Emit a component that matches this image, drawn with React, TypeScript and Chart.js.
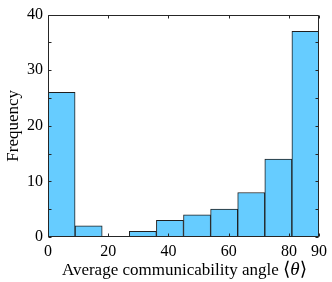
import React, { useEffect, useRef } from "react";
import { Chart, registerables } from "chart.js";

Chart.register(...registerables);

const binEdges = [0, 9, 18, 27, 36, 45, 54, 63, 72, 81, 90];
const counts = [26, 2, 0, 1, 3, 4, 5, 8, 14, 37];
const xTickValues = [0, 20, 40, 60, 80, 90];
const yMax = 40;
const xTitleParts = ["Average communicability angle ", "⟨", "θ", "⟩"];
const yTitle = "Frequency";

const FONT = "'Liberation Serif', 'DejaVu Serif', serif";
const AXIS_COLOR = "#262626";

const boxTicks = {
  id: "boxTicks",
  afterDraw(chart: any) {
    const { ctx, chartArea } = chart;
    const { left, right, top, bottom } = chartArea;
    const xs = chart.scales.x;
    const ys = chart.scales.y;
    ctx.save();
    ctx.strokeStyle = AXIS_COLOR;
    ctx.lineWidth = 1;
    const L = Math.round(left) + 0.5;
    const R = Math.round(right) - 0.5;
    const T = Math.round(top) + 0.5;
    const B = Math.round(bottom) - 0.5;
    ctx.beginPath();
    ctx.rect(L, T, R - L, B - T);
    ctx.stroke();
    const tl = 3;
    ctx.beginPath();
    xs.ticks.forEach((t: any) => {
      const px = Math.round(xs.getPixelForValue(t.value)) + 0.5;
      ctx.moveTo(px, B);
      ctx.lineTo(px, B - tl);
      ctx.moveTo(px, T);
      ctx.lineTo(px, T + tl);
    });
    ys.ticks.forEach((t: any) => {
      const py = Math.round(ys.getPixelForValue(t.value)) + 0.5;
      ctx.moveTo(L, py);
      ctx.lineTo(L + tl, py);
      ctx.moveTo(R, py);
      ctx.lineTo(R - tl, py);
    });
    ctx.stroke();

    // x-axis title with italic theta
    const fonts = [
      `17px ${FONT}`,
      `19px ${FONT}`,
      `italic 19px ${FONT}`,
      `19px ${FONT}`,
    ];
    let total = 0;
    const widths = xTitleParts.map((p, i) => {
      ctx.font = fonts[i];
      const w = ctx.measureText(p).width;
      total += w;
      return w;
    });
    let x = (left + right) / 2 - total / 2 + 1;
    const baseY = 275;
    ctx.fillStyle = "#000";
    ctx.textBaseline = "alphabetic";
    ctx.textAlign = "left";
    xTitleParts.forEach((p, i) => {
      ctx.font = fonts[i];
      ctx.fillText(p, x, baseY);
      x += widths[i];
    });
    ctx.restore();
  },
};

export default function App() {
  const ref = useRef<HTMLCanvasElement | null>(null);
  useEffect(() => {
    document.body.style.margin = "0";
    const canvas = ref.current!;
    const data = counts.map((c, i) => ({
      x: (binEdges[i] + binEdges[i + 1]) / 2,
      y: c,
    }));
    const chart = new Chart(canvas, {
      type: "bar",
      data: {
        datasets: [
          {
            data,
            backgroundColor: "#66CCFF",
            borderColor: "#1f1f1f",
            borderWidth: 1,
            barPercentage: 1,
            categoryPercentage: 1,
            grouped: false,
          } as any,
        ],
      },
      options: {
        animation: false,
        responsive: false,
        maintainAspectRatio: false,
        layout: { padding: { top: 11, right: 9, left: 0, bottom: 0 } },
        plugins: { legend: { display: false }, tooltip: { enabled: false } },
        scales: {
          x: {
            type: "linear",
            min: binEdges[0],
            max: binEdges[binEdges.length - 1],
            offset: false,
            grid: { display: false, drawTicks: false },
            border: { display: false },
            afterBuildTicks: (s: any) => {
              s.ticks = xTickValues.map((v) => ({ value: v }));
            },
            afterFit: (s: any) => {
              s.height = 45;
            },
            ticks: {
              color: "#000",
              font: { family: FONT, size: 16 },
              padding: 5,
              maxRotation: 0,
              autoSkip: false,
              callback: (v: any) => String(v),
            },
            title: { display: false },
          },
          y: {
            type: "linear",
            min: 0,
            max: yMax,
            grid: { display: false, drawTicks: false },
            border: { display: false },
            afterFit: (s: any) => {
              s.width = 48;
            },
            ticks: {
              stepSize: 5,
              color: "#000",
              font: { family: FONT, size: 16 },
              padding: 5,
              autoSkip: false,
              callback: (v: any) => (Number(v) % 10 === 0 ? String(v) : ""),
            },
            title: {
              display: true,
              text: yTitle,
              color: "#000",
              font: { family: FONT, size: 17 },
              padding: { top: 3, bottom: 0 },
            },
          },
        },
      } as any,
      plugins: [boxTicks],
    });
    return () => chart.destroy();
  }, []);
  return (
    <div style={{ position: "fixed", left: 0, top: 0, width: 332, height: 282, background: "#fff" }}>
      <canvas ref={ref} width={332} height={282} style={{ width: 332, height: 282, display: "block" }} />
    </div>
  );
}
